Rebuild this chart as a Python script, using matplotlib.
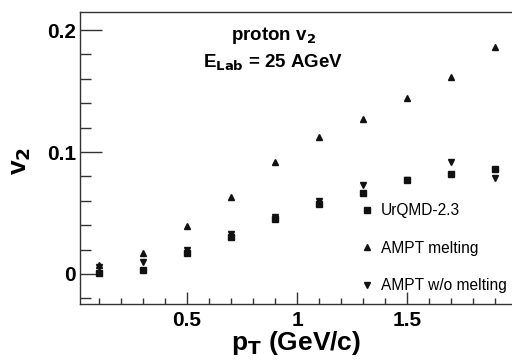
import matplotlib
matplotlib.use("Agg")
import matplotlib.pyplot as plt
from matplotlib.ticker import MultipleLocator, FormatStrFormatter

plt.rcParams["font.family"] = ["Liberation Sans", "DejaVu Sans"]

pt = [0.1, 0.3, 0.5, 0.7, 0.9, 1.1, 1.3, 1.5, 1.7, 1.9]
v2_urqmd = [0.001, 0.003, 0.0175, 0.030, 0.045, 0.057, 0.066, 0.077, 0.082, 0.086]
v2_ampt_melt = [0.007, 0.0175, 0.039, 0.063, 0.092, 0.1125, 0.127, 0.1445, 0.1617, 0.1863]
v2_ampt_nomelt = [0.006, 0.0098, 0.020, 0.033, 0.047, 0.060, 0.073, 0.077, 0.0915, 0.079]

labels = ["UrQMD-2.3", "AMPT melting", "AMPT w/o melting"]

fig = plt.figure(figsize=(5.12, 3.64), dpi=100)
ax = fig.add_axes([80 / 512, 60 / 364, 432 / 512, 292 / 364])

ax.plot(pt, v2_urqmd, "s", color="#111111", markersize=4.5, label=labels[0])
ax.plot(pt, v2_ampt_melt, "^", color="#111111", markersize=4, label=labels[1])
ax.plot(pt, v2_ampt_nomelt, "v", color="#111111", markersize=4, label=labels[2])

ax.set_xlim(0.014, 1.976)
ax.set_ylim(-0.0246, 0.2148)

ax.xaxis.set_major_locator(MultipleLocator(0.5))
ax.xaxis.set_minor_locator(MultipleLocator(0.1))
ax.yaxis.set_major_locator(MultipleLocator(0.1))
ax.yaxis.set_minor_locator(MultipleLocator(0.02))
ax.xaxis.set_major_formatter(FormatStrFormatter("%g"))
ax.yaxis.set_major_formatter(FormatStrFormatter("%g"))

ax.tick_params(axis="both", which="both", direction="in", top=False, right=False,
               color="#333333")
ax.tick_params(axis="y", which="major", length=16, width=1, pad=3, labelsize=15)
ax.tick_params(axis="y", which="minor", length=8, width=1)
ax.tick_params(axis="x", which="major", length=9, width=1, pad=5, labelsize=15)
ax.tick_params(axis="x", which="minor", length=4, width=1)
for lab in ax.get_xticklabels() + ax.get_yticklabels():
    lab.set_fontweight("bold")

ax.spines["right"].set_visible(False)
for s in ["left", "bottom", "top"]:
    ax.spines[s].set_color("#333333")
    ax.spines[s].set_linewidth(1)

ax.set_xlabel(r"p$_\mathbf{T}$ (GeV/c)", fontsize=19, fontweight="bold", labelpad=-1)
ax.xaxis.label.set_position((0.5, 0))
ax.set_ylabel(r"v$_\mathbf{2}$", fontsize=19, fontweight="bold", labelpad=10)
ax.yaxis.label.set_position((0, 0.49))

ax.text(0.447, 0.921, r"proton v$_\mathbf{2}$", transform=ax.transAxes,
        ha="center", va="center", fontsize=13.5, fontweight="bold")
ax.text(0.447, 0.825, r"E$_\mathbf{Lab}$ = 25 AGeV", transform=ax.transAxes,
        ha="center", va="center", fontsize=13.5, fontweight="bold")

ax.legend(loc="lower left", bbox_to_anchor=(0.625, 0.0), frameon=False,
          fontsize=11.2, handlelength=0.8, handletextpad=0.5, labelspacing=1.45,
          borderpad=0.2)

fig.savefig("out.png", dpi=100)
